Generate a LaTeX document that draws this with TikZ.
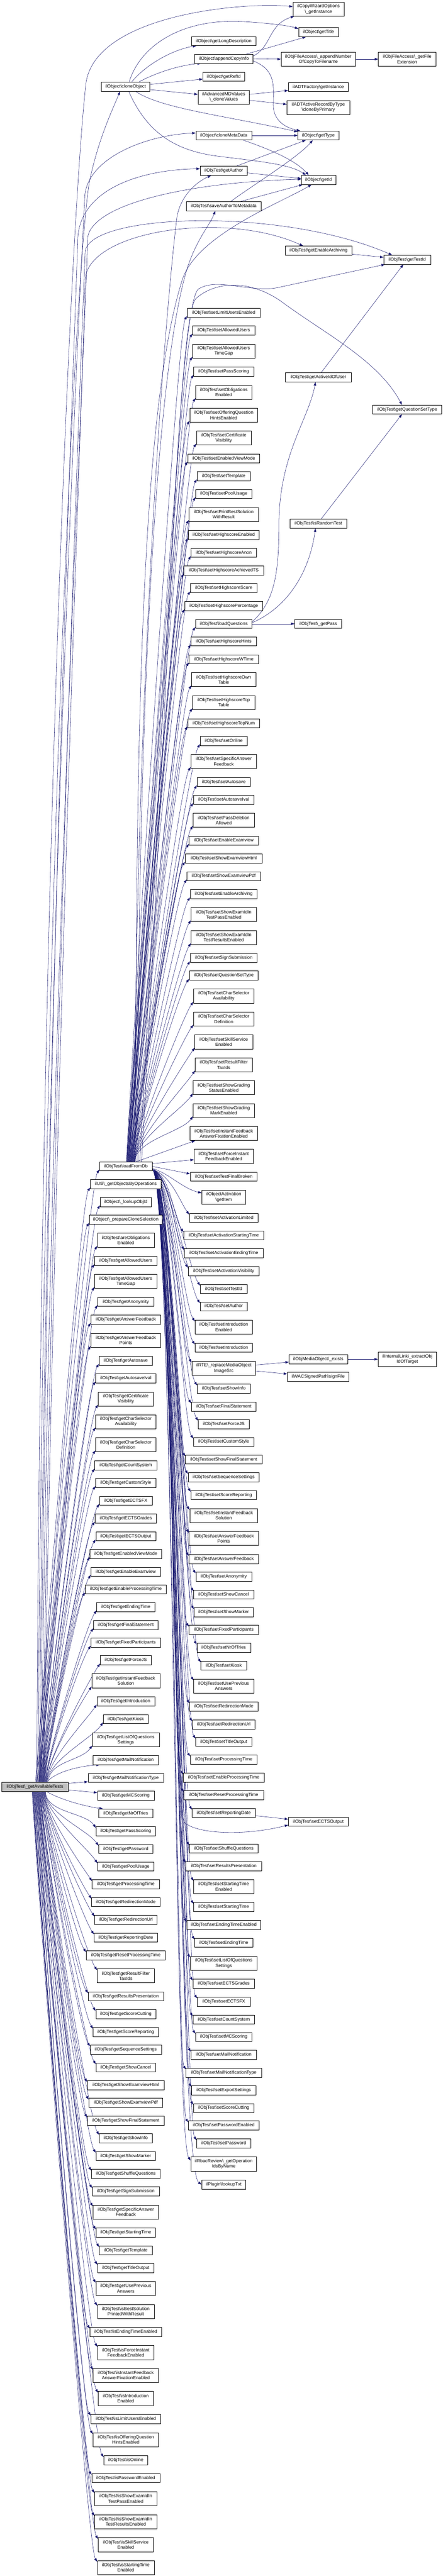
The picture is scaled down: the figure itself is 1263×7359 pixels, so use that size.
\documentclass[tikz,border=0pt]{standalone}
\usepackage{fontspec}
\setmainfont{Liberation Sans}
\usetikzlibrary{arrows.meta}
\definecolor{EdgeBlue}{RGB}{25,25,112}
\definecolor{RootGray}{RGB}{191,191,191}
\newcommand{\bsl}{\textbackslash}
\newcommand{\objt}{ilObjTest\textbackslash}
\pgfdeclarelayer{bg}
\pgfdeclarelayer{edges}
\pgfsetlayers{bg,edges,main}
\tikzset{
  fn/.style={draw=black, fill=white, line width=0.9pt, inner sep=0pt, align=center, minimum height=26, font=\fontsize{13}{15}\selectfont},
  fn2/.style={fn, minimum height=40},
  cedge/.style={draw=EdgeBlue, line width=0.8pt, -{Triangle[length=10pt,width=7pt]}},
  fanup/.style={to path={.. controls +(0,-60) and ([shift={(-30,40)}]\tikztotarget.south west) .. ([shift={(0,-4)}]\tikztotarget.south west)}},
  fandown/.style={to path={.. controls +(0,60) and ([shift={(-30,-40)}]\tikztotarget.north west) .. ([shift={(0,4)}]\tikztotarget.north west)}},
  fanright/.style={to path={.. controls +(55,20) and ([shift={(-30,-40)}]\tikztotarget.north west) .. ([shift={(0,4)}]\tikztotarget.north west)}}
}
\begin{document}
\begin{tikzpicture}[x=1pt,y=-1pt]
\useasboundingbox (0,0) rectangle (1263,7359);
\begin{pgfonlayer}{bg}
\fill [white] (0,0) rectangle (1263,7359);
\end{pgfonlayer}

% Text Node -- right columns
\node [fn2, minimum width=146] (cwoInst) at (909,26) {ilCopyWizardOptions\\\bsl\_getInstance};
\node [fn, minimum width=114] (getTitle) at (909,92) {ilObject\bsl getTitle};
\node [fn, minimum width=183] (getLongDesc) at (638.5,117.5) {ilObject\bsl getLongDescription};
\node [fn, minimum width=166] (appendCopy) at (639,168) {ilObject\bsl appendCopyInfo};
\node [fn2, minimum width=213] (appendNum) at (908.5,169) {ilObjFileAccess\bsl\_appendNumber\\OfCopyToFilename};
\node [fn2, minimum width=164] (fileExt) at (1162,169) {ilObjFileAccess\bsl\_getFile\\Extension};
\node [fn, minimum width=119] (getRefId) at (638.5,219) {ilObject\bsl getRefId};
\node [fn, minimum width=139] (cloneObj) at (358.5,248) {ilObject\bsl cloneObject};
\node [fn, minimum width=171] (adtInst) at (908.5,248.5) {ilADTFactory\bsl getInstance};
\node [fn2, minimum width=147] (cloneVal) at (638.5,277.5) {ilAdvancedMDValues\\\bsl\_cloneValues};
\node [fn2, minimum width=179] (cloneByPrim) at (908.5,307) {ilADTActiveRecordByType\\\bsl cloneByPrimary};
\node [fn, minimum width=159] (cloneMeta) at (638.5,387) {ilObject\bsl cloneMetaData};
\node [fn, minimum width=117] (getType) at (908.5,387) {ilObject\bsl getType};
\node [fn, minimum width=135] (getAuthor) at (638.5,488) {\objt getAuthor};
\node [fn, minimum width=98] (getId) at (909,514) {ilObject\bsl getId};
\node [fn, minimum width=213] (saveAuthor) at (638.5,589) {\objt saveAuthorToMetadata};
\node [fn, minimum width=190] (getEnArch) at (909,716) {\objt getEnableArchiving};
\node [fn, minimum width=134] (getTestId) at (1162,742) {\objt getTestId};
\node [fn, minimum width=187] (getActId) at (908.5,1078) {\objt getActiveIdOfUser};
\node [fn, minimum width=198] (getQSetType) at (1162,1170) {\objt getQuestionSetType};
\node [fn, minimum width=163] (isRandom) at (908.5,1496) {\objt isRandomTest};
\node [fn, minimum width=134] (getPass) at (908,1782) {\objt\_getPass};
\node [fn, minimum width=167] (mediaExists) at (908.5,3883) {ilObjMediaObject\bsl\_exists};
\node [fn2, minimum width=167] (extractObj) at (1162.5,3883) {ilInternalLink\bsl\_extractObj\\IdOfTarget};
\node [fn, minimum width=176] (signFile) at (908,3933) {ilWACSignedPath\bsl signFile};
\node [fn, minimum width=171] (setECTSOut) at (908.5,5204) {\objt setECTSOutput};

% Text Node -- setters called by loadFromDb
\node [fn, minimum width=208] (sLimUE) at (638.5,893.5) {\objt setLimitUsersEnabled};
\node [fn, minimum width=178] (sAllowU) at (638.5,944) {\objt setAllowedUsers};
\node [fn2, minimum width=178] (sAllowUTG) at (638.5,1003) {\objt setAllowedUsers\\TimeGap};
\node [fn, minimum width=171] (sPassSc) at (638.5,1061.5) {\objt setPassScoring};
\node [fn2, minimum width=160] (sOblEn) at (638.5,1121) {\objt setObligations\\Enabled};
\node [fn2, minimum width=194] (sOffQH) at (638.5,1186) {\objt setOfferingQuestion\\HintsEnabled};
\node [fn2, minimum width=156] (sCertVis) at (638.5,1251) {\objt setCertificate\\Visibility};
\node [fn, minimum width=205] (sEnViewM) at (638.5,1309.5) {\objt setEnabledViewMode};
\node [fn, minimum width=152] (sTemplate) at (638.5,1360) {\objt setTemplate};
\node [fn, minimum width=160] (sPoolUse) at (638.5,1411) {\objt setPoolUsage};
\node [fn2, minimum width=198] (sPrintBest) at (638.5,1469.5) {\objt setPrintBestSolution\\WithResult};
\node [fn, minimum width=202] (sHsEn) at (638.5,1528) {\objt setHighscoreEnabled};
\node [fn, minimum width=186] (sHsAnon) at (638.5,1579) {\objt setHighscoreAnon};
\node [fn, minimum width=227] (sHsAchTS) at (638.5,1630) {\objt setHighscoreAchievedTS};
\node [fn, minimum width=190] (sHsScore) at (638.5,1680) {\objt setHighscoreScore};
\node [fn, minimum width=222] (sHsPerc) at (638.5,1731) {\objt setHighscorePercentage};
\node [fn, minimum width=161] (loadQ) at (638.5,1782) {\objt loadQuestions};
\node [fn, minimum width=187] (sHsHints) at (638.5,1832) {\objt setHighscoreHints};
\node [fn, minimum width=198] (sHsWTime) at (638.5,1883.5) {\objt setHighscoreWTime};
\node [fn2, minimum width=183] (sHsOwnT) at (638.5,1941.5) {\objt setHighscoreOwn\\Table};
\node [fn2, minimum width=178] (sHsTopT) at (638.5,2007) {\objt setHighscoreTop\\Table};
\node [fn, minimum width=205] (sHsTopN) at (638.5,2066) {\objt setHighscoreTopNum};
\node [fn, minimum width=134] (sOnline) at (638.5,2116.5) {\objt setOnline};
\node [fn2, minimum width=187] (sSpecAF) at (638.5,2175) {\objt setSpecificAnswer\\Feedback};
\node [fn, minimum width=152] (sAutosave) at (638.5,2234) {\objt setAutosave};
\node [fn, minimum width=173] (sAutoIval) at (638.5,2284.5) {\objt setAutosaveIval};
\node [fn2, minimum width=175] (sPassDel) at (638.5,2343) {\objt setPassDeletion\\Allowed};
\node [fn, minimum width=198] (sEnExamV) at (638.5,2401.5) {\objt setEnableExamview};
\node [fn, minimum width=220] (sShowExH) at (638.5,2452.5) {\objt setShowExamviewHtml};
\node [fn, minimum width=210] (sShowExP) at (638.5,2503) {\objt setShowExamviewPdf};
\node [fn, minimum width=191] (sEnArch) at (638.5,2554) {\objt setEnableArchiving};
\node [fn2, minimum width=186] (sExIdPass) at (638.5,2612.5) {\objt setShowExamIdIn\\TestPassEnabled};
\node [fn2, minimum width=186] (sExIdRes) at (638.5,2678) {\objt setShowExamIdIn\\TestResultsEnabled};
\node [fn, minimum width=191] (sSignSub) at (638.5,2736.5) {\objt setSignSubmission};
\node [fn, minimum width=197] (sQSetType) at (638.5,2787) {\objt setQuestionSetType};
\node [fn2, minimum width=173] (sCharAv) at (638.5,2845.5) {\objt setCharSelector\\Availability};
\node [fn2, minimum width=173] (sCharDef) at (638.5,2911) {\objt setCharSelector\\Definition};
\node [fn2, minimum width=165] (sSkillSrv) at (638.5,2976.5) {\objt setSkillService\\Enabled};
\node [fn2, minimum width=163] (sResFilt) at (638.5,3042) {\objt setResultFilter\\TaxIds};
\node [fn2, minimum width=175] (sGrStat) at (638.5,3107) {\objt setShowGrading\\StatusEnabled};
\node [fn2, minimum width=175] (sGrMark) at (638.5,3172.5) {\objt setShowGrading\\MarkEnabled};
\node [fn2, minimum width=194] (sIFAnsFix) at (638.5,3238) {\objt setInstantFeedback\\AnswerFixationEnabled};
\node [fn2, minimum width=169] (sForceIF) at (638.5,3303) {\objt setForceInstant\\FeedbackEnabled};
\node [fn, minimum width=191] (sFinBroken) at (638.5,3361.5) {\objt setTestFinalBroken};
\node [fn2, minimum width=125] (actItem) at (638.5,3420) {ilObjectActivation\\\bsl getItem};
\node [fn, minimum width=197] (sActLim) at (638.5,3479) {\objt setActivationLimited};
\node [fn, minimum width=229] (sActStart) at (638.5,3529) {\objt setActivationStartingTime};
\node [fn, minimum width=224] (sActEnd) at (638.5,3580) {\objt setActivationEndingTime};
\node [fn, minimum width=203] (sActVis) at (638.5,3631) {\objt setActivationVisibility};
\node [fn, minimum width=134] (sTestId) at (638.5,3682) {\objt setTestId};
\node [fn, minimum width=135] (sAuthor) at (638.5,3732) {\objt setAuthor};
\node [fn2, minimum width=164] (sIntroEn) at (638.5,3791) {\objt setIntroduction\\Enabled};
\node [fn, minimum width=164] (sIntro) at (638.5,3850) {\objt setIntroduction};
\node [fn2, minimum width=182] (rteRepl) at (638.5,3908.5) {ilRTE\bsl\_replaceMediaObject\\ImageSrc};
\node [fn, minimum width=151] (sShowInfo) at (638.5,3967) {\objt setShowInfo};
\node [fn, minimum width=185] (sFinStmt) at (638.5,4018) {\objt setFinalStatement};
\node [fn, minimum width=145] (sForceJS) at (638.5,4068) {\objt setForceJS};
\node [fn, minimum width=173] (sCustStyle) at (638.5,4119) {\objt setCustomStyle};
\node [fn, minimum width=218] (sShowFinSt) at (638.5,4169.5) {\objt setShowFinalStatement};
\node [fn, minimum width=203] (sSeqSet) at (638.5,4220) {\objt setSequenceSettings};
\node [fn, minimum width=187] (sScoreRep) at (638.5,4271) {\objt setScoreReporting};
\node [fn2, minimum width=194] (sIFSol) at (638.5,4329.5) {\objt setInstantFeedback\\Solution};
\node [fn2, minimum width=198] (sAnsFbPts) at (638.5,4395) {\objt setAnswerFeedback\\Points};
\node [fn, minimum width=198] (sAnsFb) at (638.5,4454) {\objt setAnswerFeedback};
\node [fn, minimum width=159] (sAnonym) at (638.5,4504) {\objt setAnonymity};
\node [fn, minimum width=171] (sShowCanc) at (638.5,4555) {\objt setShowCancel};
\node [fn, minimum width=169] (sShowMark) at (638.5,4606) {\objt setShowMarker};
\node [fn, minimum width=198] (sFixPart) at (638.5,4656) {\objt setFixedParticipants};
\node [fn, minimum width=153] (sNrTries) at (638.5,4707) {\objt setNrOfTries};
\node [fn, minimum width=130] (sKiosk) at (638.5,4758) {\objt setKiosk};
\node [fn2, minimum width=171] (sUsePrev) at (638.5,4816.5) {\objt setUsePrevious\\Answers};
\node [fn, minimum width=195] (sRedirM) at (638.5,4875) {\objt setRedirectionMode};
\node [fn, minimum width=179] (sRedirU) at (638.5,4926.5) {\objt setRedirectionUrl};
\node [fn, minimum width=160] (sTitleOut) at (638.5,4976) {\objt setTitleOutput};
\node [fn, minimum width=191] (sProcT) at (638.5,5027) {\objt setProcessingTime};
\node [fn, minimum width=230] (sEnProcT) at (638.5,5078) {\objt setEnableProcessingTime};
\node [fn, minimum width=227] (sResetPT) at (638.5,5128.5) {\objt setResetProcessingTime};
\node [fn, minimum width=180] (sRepDate) at (638.5,5179) {\objt setReportingDate};
\node [fn, minimum width=196] (sShuffleQ) at (638.5,5280.5) {\objt setShuffleQuestions};
\node [fn, minimum width=215] (sResPres) at (638.5,5331) {\objt setResultsPresentation};
\node [fn2, minimum width=171] (sStartTEn) at (638.5,5389.5) {\objt setStartingTime\\Enabled};
\node [fn, minimum width=171] (sStartT) at (638.5,5448) {\objt setStartingTime};
\node [fn, minimum width=211] (sEndTEn) at (638.5,5499) {\objt setEndingTimeEnabled};
\node [fn, minimum width=165] (sEndT) at (638.5,5550) {\objt setEndingTime};
\node [fn2, minimum width=191] (sListOfQ) at (638.5,5608.5) {\objt setListOfQuestions\\Settings};
\node [fn, minimum width=176] (sECTSGr) at (638.5,5667) {\objt setECTSGrades};
\node [fn, minimum width=151] (sECTSFX) at (638.5,5718) {\objt setECTSFX};
\node [fn, minimum width=176] (sCountSys) at (638.5,5769) {\objt setCountSystem};
\node [fn, minimum width=161] (sMCSc) at (638.5,5819) {\objt setMCScoring};
\node [fn, minimum width=187] (sMailN) at (638.5,5870) {\objt setMailNotification};
\node [fn, minimum width=215] (sMailNT) at (638.5,5921) {\objt setMailNotificationType};
\node [fn, minimum width=183] (sExportSet) at (638.5,5971) {\objt setExportSettings};
\node [fn, minimum width=173] (sScoreCut) at (638.5,6022) {\objt setScoreCutting};
\node [fn, minimum width=202] (sPwEn) at (638.5,6072) {\objt setPasswordEnabled};
\node [fn, minimum width=155] (sPassword) at (638.5,6123) {\objt setPassword};
\node [fn2, minimum width=188] (rbacOps) at (638.5,6182) {ilRbacReview\bsl\_getOperation\\IdsByName};
\node [fn, minimum width=126] (pluginTxt) at (638.5,6240.5) {ilPlugin\bsl lookupTxt};

% Text Node -- called by _getAvailableTests
\node [fn, minimum width=150] (lfd) at (359,3332) {\objt loadFromDb};
\node [fn, minimum width=202] (gObjOps) at (359,3383) {ilUtil\bsl\_getObjectsByOperations};
\node [fn, minimum width=146] (lookObjId) at (359,3434) {ilObject\bsl\_lookupObjId};
\node [fn, minimum width=208] (prepClone) at (359,3484) {ilObject\bsl\_prepareCloneSelection};
\node [fn2, minimum width=162] (aOblEn) at (359,3543) {\objt areObligations\\Enabled};
\node [fn, minimum width=178] (gAllowU) at (359,3602) {\objt getAllowedUsers};
\node [fn2, minimum width=178] (gAllowUTG) at (359,3660.5) {\objt getAllowedUsers\\TimeGap};
\node [fn, minimum width=160] (gAnonym) at (359,3719) {\objt getAnonymity};
\node [fn, minimum width=199] (gAnsFb) at (359,3770) {\objt getAnswerFeedback};
\node [fn2, minimum width=199] (gAnsFbPts) at (359,3829) {\objt getAnswerFeedback\\Points};
\node [fn, minimum width=152] (gAutosave) at (359,3887) {\objt getAutosave};
\node [fn, minimum width=172] (gAutoIval) at (359,3937.5) {\objt getAutosaveIval};
\node [fn2, minimum width=157] (gCertVis) at (359,3996.5) {\objt getCertificate\\Visibility};
\node [fn2, minimum width=172] (gCharAv) at (359,4061.5) {\objt getCharSelector\\Availability};
\node [fn2, minimum width=172] (gCharDef) at (359,4127) {\objt getCharSelector\\Definition};
\node [fn, minimum width=177] (gCountSys) at (359,4186) {\objt getCountSystem};
\node [fn, minimum width=172] (gCustStyle) at (359,4236) {\objt getCustomStyle};
\node [fn, minimum width=150] (gECTSFX) at (359,4287) {\objt getECTSFX};
\node [fn, minimum width=176] (gECTSGr) at (359,4338) {\objt getECTSGrades};
\node [fn, minimum width=171] (gECTSOut) at (359,4388.5) {\objt getECTSOutput};
\node [fn, minimum width=204] (gEnViewM) at (359,4439) {\objt getEnabledViewMode};
\node [fn, minimum width=199] (gEnExamV) at (359,4490) {\objt getEnableExamview};
\node [fn, minimum width=231] (gEnProcT) at (359,4540) {\objt getEnableProcessingTime};
\node [fn, minimum width=166] (gEndT) at (359,4591) {\objt getEndingTime};
\node [fn, minimum width=184] (gFinStmt) at (359,4642) {\objt getFinalStatement};
\node [fn, minimum width=199] (gFixPart) at (359,4692) {\objt getFixedParticipants};
\node [fn, minimum width=146] (gForceJS) at (359,4743) {\objt getForceJS};
\node [fn2, minimum width=194] (gIFSol) at (359,4801.5) {\objt getInstantFeedback\\Solution};
\node [fn, minimum width=165] (gIntro) at (359,4860) {\objt getIntroduction};
\node [fn, minimum width=129] (gKiosk) at (359,4911) {\objt getKiosk};
\node [fn2, minimum width=191] (gListOfQ) at (359,4970) {\objt getListOfQuestions\\Settings};
\node [fn, minimum width=187] (gMailN) at (359,5028) {\objt getMailNotification};
\node [fn, minimum width=215] (gMailNT) at (359,5079) {\objt getMailNotificationType};
\node [fn, fill=RootGray, minimum width=190] (root) at (100,5104.5) {\objt\_getAvailableTests};
\node [fn, minimum width=162] (gMCSc) at (359,5130) {\objt getMCScoring};
\node [fn, minimum width=154] (gNrTries) at (359,5180.5) {\objt getNrOfTries};
\node [fn, minimum width=170] (gPassSc) at (359,5231) {\objt getPassScoring};
\node [fn, minimum width=155] (gPassword) at (359,5282) {\objt getPassword};
\node [fn, minimum width=161] (gPoolUse) at (359,5332) {\objt getPoolUsage};
\node [fn, minimum width=192] (gProcT) at (359,5383) {\objt getProcessingTime};
\node [fn, minimum width=195] (gRedirM) at (359,5433.5) {\objt getRedirectionMode};
\node [fn, minimum width=178] (gRedirU) at (359,5484) {\objt getRedirectionUrl};
\node [fn, minimum width=181] (gRepDate) at (359,5535) {\objt getReportingDate};
\node [fn, minimum width=226] (gResetPT) at (359,5586) {\objt getResetProcessingTime};
\node [fn2, minimum width=163] (gResFilt) at (359,5644.5) {\objt getResultFilter\\TaxIds};
\node [fn, minimum width=215] (gResPres) at (359,5703) {\objt getResultsPresentation};
\node [fn, minimum width=171] (gScoreCut) at (359,5754) {\objt getScoreCutting};
\node [fn, minimum width=186] (gScoreRep) at (359,5805) {\objt getScoreReporting};
\node [fn, minimum width=203] (gSeqSet) at (359,5855) {\objt getSequenceSettings};
\node [fn, minimum width=170] (gShowCanc) at (359,5906) {\objt getShowCancel};
\node [fn, minimum width=219] (gShowExH) at (359,5957) {\objt getShowExamviewHtml};
\node [fn, minimum width=211] (gShowExP) at (359,6007) {\objt getShowExamviewPdf};
\node [fn, minimum width=219] (gShowFinSt) at (359,6058) {\objt getShowFinalStatement};
\node [fn, minimum width=151] (gShowInfo) at (359,6108) {\objt getShowInfo};
\node [fn, minimum width=170] (gShowMark) at (359,6159) {\objt getShowMarker};
\node [fn, minimum width=196] (gShuffleQ) at (359,6210) {\objt getShuffleQuestions};
\node [fn, minimum width=191] (gSignSub) at (359,6260) {\objt getSignSubmission};
\node [fn2, minimum width=187] (gSpecAF) at (359,6319) {\objt getSpecificAnswer\\Feedback};
\node [fn, minimum width=170] (gStartT) at (359,6378) {\objt getStartingTime};
\node [fn, minimum width=151] (gTemplate) at (359,6428.5) {\objt getTemplate};
\node [fn, minimum width=161] (gTitleOut) at (359,6479) {\objt getTitleOutput};
\node [fn2, minimum width=170] (gUsePrev) at (359,6537.5) {\objt getUsePrevious\\Answers};
\node [fn2, minimum width=162] (iBestSol) at (359,6603) {\objt isBestSolution\\PrintedWithResult};
\node [fn, minimum width=204] (iEndTEn) at (359,6661.5) {\objt isEndingTimeEnabled};
\node [fn2, minimum width=161] (iForceIF) at (359,6720.5) {\objt isForceInstant\\FeedbackEnabled};
\node [fn2, minimum width=186] (iIFAnsFix) at (359,6786) {\objt isInstantFeedback\\AnswerFixationEnabled};
\node [fn2, minimum width=157] (iIntroEn) at (359,6851.5) {\objt isIntroduction\\Enabled};
\node [fn, minimum width=199] (iLimUEn) at (359,6910) {\objt isLimitUsersEnabled};
\node [fn2, minimum width=187] (iOffQH) at (359,6969.5) {\objt isOfferingQuestion\\HintsEnabled};
\node [fn, minimum width=126] (iOnline) at (359,7028.5) {\objt isOnline};
\node [fn, minimum width=194] (iPwEn) at (359,7079) {\objt isPasswordEnabled};
\node [fn2, minimum width=178] (iExIdPass) at (359,7138) {\objt isShowExamIdIn\\TestPassEnabled};
\node [fn2, minimum width=178] (iExIdRes) at (359,7203.5) {\objt isShowExamIdIn\\TestResultsEnabled};
\node [fn2, minimum width=157] (iSkillSrv) at (359,7269.5) {\objt isSkillService\\Enabled};
\node [fn2, minimum width=162] (iStartTEn) at (359,7334.5) {\objt isStartingTime\\Enabled};

\begin{pgfonlayer}{edges}
%Curve Lines -- cloneObject and the functions around it
\draw [cedge] ([shift={(10,0)}]cloneObj.north) .. controls (400,130) and (520,50) .. (700,62) .. controls (790,68) and (830,75) .. ([shift={(0,-10)}]getTitle.west);
\draw [cedge] ([shift={(17,0)}]cloneObj.north) .. controls (420,180) and (500,140) .. ([shift={(14,0)}]getLongDesc.south west);
\draw [cedge] ([shift={(37,0)}]cloneObj.north) .. controls (450,205) and (520,185) .. ([shift={(18,0)}]appendCopy.south west);
\draw [cedge] ([shift={(0,-7)}]cloneObj.east) -- ([shift={(0,7)}]getRefId.west);
\draw [cedge] ([shift={(0,8)}]cloneObj.east) -- ([shift={(0,-8)}]cloneVal.west);
\draw [cedge] ([shift={(29,0)}]cloneObj.south) .. controls (460,310) and (640,330) .. ([shift={(0,3)}]getType.north west);
\draw [cedge] ([shift={(9,0)}]cloneObj.south) .. controls (420,380) and (500,430) .. (620,446) .. controls (750,462) and (830,470) .. ([shift={(-36,0)}]getId.north);
\draw [cedge] ([shift={(0,-8)}]appendCopy.east) .. controls (775,135) and (765,70) .. ([shift={(4,0)}]cwoInst.south west);
\draw [cedge] ([shift={(64,0)}]appendCopy.north) -- ([shift={(-36,0)}]getTitle.south);
\draw [cedge] (appendCopy.east) -- (appendNum.west);
\draw [cedge] (appendNum.east) -- (fileExt.west);
\draw [cedge] ([shift={(0,6)}]appendCopy.east) .. controls (790,200) and (780,250) .. (780,300) .. controls (780,345) and (815,365) .. ([shift={(7,0)}]getType.north west);
\draw [cedge] ([shift={(0,-8)}]cloneVal.east) -- ([shift={(0,10)}]adtInst.west);
\draw [cedge] ([shift={(0,9)}]cloneVal.east) -- ([shift={(0,-9)}]cloneByPrim.west);
\draw [cedge] (cloneMeta.east) -- (getType.west);
\draw [cedge] ([shift={(56,0)}]cloneMeta.south) .. controls (780,430) and (845,460) .. ([shift={(-28,0)}]getId.north);
\draw [cedge] ([shift={(36,0)}]getAuthor.north) -- ([shift={(-36,0)}]getType.south);
\draw [cedge] ([shift={(0,6)}]getAuthor.east) -- ([shift={(0,-4)}]getId.west);
\draw [cedge] ([shift={(20,0)}]saveAuthor.north) .. controls (720,530) and (850,450) .. ([shift={(-16,0)}]getType.south);
\draw [cedge] ([shift={(48,0)}]saveAuthor.north) -- ([shift={(4,0)}]getId.south west);
\draw [cedge] ([shift={(0,10)}]getEnArch.east) -- ([shift={(0,-7)}]getTestId.west);
\draw [cedge] ([shift={(8,0)}]getActId.north) -- ([shift={(-11,0)}]getTestId.south);
\draw [cedge] ([shift={(8,0)}]isRandom.north) -- ([shift={(-15,0)}]getQSetType.south);
\draw [cedge] ([shift={(0,-5)}]loadQ.east) .. controls (780,1720) and (796,1650) .. (796,1500) .. controls (796,1300) and (880,1200) .. ([shift={(-8,0)}]getActId.south);
\draw [cedge] ([shift={(0,-3)}]loadQ.east) .. controls (810,1740) and (880,1650) .. ([shift={(-8,0)}]isRandom.south);
\draw [cedge] (loadQ.east) -- (getPass.west);
\draw [cedge] ([shift={(0,-9)}]rteRepl.east) -- ([shift={(0,8)}]mediaExists.west);
\draw [cedge] ([shift={(0,8)}]rteRepl.east) -- ([shift={(0,-8)}]signFile.west);
\draw [cedge] (mediaExists.east) -- (extractObj.west);
\draw [cedge] ([shift={(0,8)}]sRepDate.east) -- ([shift={(0,-7)}]setECTSOut.west);

%Curve Lines -- long calls of _getAvailableTests
\draw [cedge] ([shift={(5,0)}]root.north) .. controls (115,2600) and (200,650) .. (245,240) .. controls (270,40) and (700,5) .. ([shift={(0,-7)}]cwoInst.west);
\draw [cedge] ([shift={(8,0)}]root.north) .. controls (125,2600) and (215,760) .. (255,520) .. controls (280,400) and (318,320) .. ([shift={(-16,0)}]cloneObj.south);
\draw [cedge] ([shift={(12,0)}]root.north) .. controls (130,2700) and (232,760) .. (242,560) .. controls (250,450) and (420,385) .. ([shift={(0,-7)}]cloneMeta.west);
\draw [cedge] ([shift={(15,0)}]root.north) .. controls (135,2800) and (218,850) .. (222,680) .. controls (230,540) and (400,485) .. ([shift={(0,-6)}]getAuthor.west);
\draw [cedge] ([shift={(18,0)}]root.north) .. controls (140,2900) and (245,950) .. (250,680) .. controls (262,580) and (550,520) .. ([shift={(0,-2)}]getId.west);
\draw [cedge] ([shift={(22,0)}]root.north) .. controls (150,3000) and (236,900) .. (243,720) .. controls (250,610) and (800,590) .. ([shift={(-43,0)}]getTestId.north);
\draw [cedge] ([shift={(25,0)}]root.north) .. controls (155,3100) and (240,1000) .. (243,800) .. controls (248,660) and (640,600) .. ([shift={(-44,0)}]getEnArch.north);

%Curve Lines -- long calls of loadFromDb
\draw [cedge] ([shift={(25,0)}]lfd.north) .. controls (385,2000) and (470,900) .. (505,620) .. controls (515,560) and (560,520) .. ([shift={(-36,0)}]getAuthor.south);
\draw [cedge] ([shift={(35,0)}]lfd.north) .. controls (390,2000) and (450,1000) .. (540,750) .. controls (565,680) and (600,640) .. ([shift={(-24,0)}]saveAuthor.south);
\draw [cedge] ([shift={(29,0)}]lfd.north) .. controls (385,2000) and (410,1150) .. (520,800) .. controls (560,672) and (800,580) .. ([shift={(-20,0)}]getId.south);
\draw [cedge] ([shift={(40,0)}]lfd.north) .. controls (470,2000) and (510,870) .. (566,826) .. controls (620,790) and (720,840) .. (800,820) -- ([shift={(4,0)}]getTestId.south west);
\draw [cedge] ([shift={(45,0)}]lfd.north) .. controls (480,2000) and (505,900) .. (560,852) .. controls (620,800) and (720,800) .. (808,865) .. controls (930,955) and (1080,1030) .. ([shift={(-15,0)}]getQSetType.north);
\draw [cedge] ([shift={(0,8)}]lfd.east) .. controls (489,3360) and (495,5120) .. (525,5205) .. controls (560,5240) and (700,5245) .. ([shift={(0,-4)}]setECTSOut.south west);
\draw [cedge] ([shift={(0,8)}]gObjOps.east) .. controls (498,3410) and (495,6100) .. ([shift={(0,-10)}]rbacOps.west);
\draw [cedge] ([shift={(0,8)}]prepClone.east) .. controls (500,3510) and (505,6190) .. (pluginTxt.west);

%Straight Lines -- short calls of loadFromDb
\draw [cedge] ([shift={(30,0)}]lfd.north) -- ([shift={(16,0)}]sIFAnsFix.south west);
\draw [cedge] ([shift={(0,-8)}]lfd.east) -- ([shift={(0,10)}]sForceIF.west);
\draw [cedge] (lfd.east) -- ([shift={(0,-8)}]sFinBroken.west);
\draw [cedge] ([shift={(0,6)}]lfd.east) .. controls (480,3350) and (520,3395) .. ([shift={(0,-12)}]actItem.west);

%Curve Lines -- loadFromDb upwards
\draw [cedge] ([shift={(2,0)}]lfd.north) to[fanup] (sLimUE);
\draw [cedge] ([shift={(3,0)}]lfd.north) to[fanup] (sAllowU);
\draw [cedge] ([shift={(3,0)}]lfd.north) to[fanup] (sAllowUTG);
\draw [cedge] ([shift={(4,0)}]lfd.north) to[fanup] (sPassSc);
\draw [cedge] ([shift={(4,0)}]lfd.north) to[fanup] (sOblEn);
\draw [cedge] ([shift={(5,0)}]lfd.north) to[fanup] (sOffQH);
\draw [cedge] ([shift={(6,0)}]lfd.north) to[fanup] (sCertVis);
\draw [cedge] ([shift={(6,0)}]lfd.north) to[fanup] (sEnViewM);
\draw [cedge] ([shift={(7,0)}]lfd.north) to[fanup] (sTemplate);
\draw [cedge] ([shift={(7,0)}]lfd.north) to[fanup] (sPoolUse);
\draw [cedge] ([shift={(8,0)}]lfd.north) to[fanup] (sPrintBest);
\draw [cedge] ([shift={(9,0)}]lfd.north) to[fanup] (sHsEn);
\draw [cedge] ([shift={(9,0)}]lfd.north) to[fanup] (sHsAnon);
\draw [cedge] ([shift={(10,0)}]lfd.north) to[fanup] (sHsAchTS);
\draw [cedge] ([shift={(10,0)}]lfd.north) to[fanup] (sHsScore);
\draw [cedge] ([shift={(11,0)}]lfd.north) to[fanup] (sHsPerc);
\draw [cedge] ([shift={(12,0)}]lfd.north) to[fanup] (loadQ);
\draw [cedge] ([shift={(12,0)}]lfd.north) to[fanup] (sHsHints);
\draw [cedge] ([shift={(13,0)}]lfd.north) to[fanup] (sHsWTime);
\draw [cedge] ([shift={(13,0)}]lfd.north) to[fanup] (sHsOwnT);
\draw [cedge] ([shift={(14,0)}]lfd.north) to[fanup] (sHsTopT);
\draw [cedge] ([shift={(15,0)}]lfd.north) to[fanup] (sHsTopN);
\draw [cedge] ([shift={(15,0)}]lfd.north) to[fanup] (sOnline);
\draw [cedge] ([shift={(16,0)}]lfd.north) to[fanup] (sSpecAF);
\draw [cedge] ([shift={(16,0)}]lfd.north) to[fanup] (sAutosave);
\draw [cedge] ([shift={(17,0)}]lfd.north) to[fanup] (sAutoIval);
\draw [cedge] ([shift={(18,0)}]lfd.north) to[fanup] (sPassDel);
\draw [cedge] ([shift={(18,0)}]lfd.north) to[fanup] (sEnExamV);
\draw [cedge] ([shift={(19,0)}]lfd.north) to[fanup] (sShowExH);
\draw [cedge] ([shift={(19,0)}]lfd.north) to[fanup] (sShowExP);
\draw [cedge] ([shift={(20,0)}]lfd.north) to[fanup] (sEnArch);
\draw [cedge] ([shift={(21,0)}]lfd.north) to[fanup] (sExIdPass);
\draw [cedge] ([shift={(21,0)}]lfd.north) to[fanup] (sExIdRes);
\draw [cedge] ([shift={(22,0)}]lfd.north) to[fanup] (sSignSub);
\draw [cedge] ([shift={(22,0)}]lfd.north) to[fanup] (sQSetType);
\draw [cedge] ([shift={(23,0)}]lfd.north) to[fanup] (sCharAv);
\draw [cedge] ([shift={(24,0)}]lfd.north) to[fanup] (sCharDef);
\draw [cedge] ([shift={(24,0)}]lfd.north) to[fanup] (sSkillSrv);
\draw [cedge] ([shift={(25,0)}]lfd.north) to[fanup] (sResFilt);
\draw [cedge] ([shift={(25,0)}]lfd.north) to[fanup] (sGrStat);
\draw [cedge] ([shift={(26,0)}]lfd.north) to[fanup] (sGrMark);

%Curve Lines -- loadFromDb downwards
\draw [cedge] ([shift={(0,8)}]lfd.east) to[fanright] (sActLim);
\draw [cedge] ([shift={(0,8)}]lfd.east) to[fanright] (sActStart);
\draw [cedge] ([shift={(0,8)}]lfd.east) to[fanright] (sActEnd);
\draw [cedge] ([shift={(0,8)}]lfd.east) to[fanright] (sActVis);
\draw [cedge] ([shift={(0,8)}]lfd.east) to[fanright] (sTestId);
\draw [cedge] ([shift={(0,8)}]lfd.east) to[fanright] (sAuthor);
\draw [cedge] ([shift={(0,8)}]lfd.east) to[fanright] (sIntroEn);
\draw [cedge] ([shift={(0,8)}]lfd.east) to[fanright] (sIntro);
\draw [cedge] ([shift={(0,8)}]lfd.east) to[fanright] (rteRepl);
\draw [cedge] ([shift={(0,8)}]lfd.east) to[fanright] (sShowInfo);
\draw [cedge] ([shift={(0,8)}]lfd.east) to[fanright] (sFinStmt);
\draw [cedge] ([shift={(0,8)}]lfd.east) to[fanright] (sForceJS);
\draw [cedge] ([shift={(0,8)}]lfd.east) to[fanright] (sCustStyle);
\draw [cedge] ([shift={(0,8)}]lfd.east) to[fanright] (sShowFinSt);
\draw [cedge] ([shift={(0,8)}]lfd.east) to[fanright] (sSeqSet);
\draw [cedge] ([shift={(0,8)}]lfd.east) to[fanright] (sScoreRep);
\draw [cedge] ([shift={(0,8)}]lfd.east) to[fanright] (sIFSol);
\draw [cedge] ([shift={(0,8)}]lfd.east) to[fanright] (sAnsFbPts);
\draw [cedge] ([shift={(0,8)}]lfd.east) to[fanright] (sAnsFb);
\draw [cedge] ([shift={(0,8)}]lfd.east) to[fanright] (sAnonym);
\draw [cedge] ([shift={(0,8)}]lfd.east) to[fanright] (sShowCanc);
\draw [cedge] ([shift={(0,8)}]lfd.east) to[fanright] (sShowMark);
\draw [cedge] ([shift={(0,8)}]lfd.east) to[fanright] (sFixPart);
\draw [cedge] ([shift={(0,8)}]lfd.east) to[fanright] (sNrTries);
\draw [cedge] ([shift={(0,8)}]lfd.east) to[fanright] (sKiosk);
\draw [cedge] ([shift={(0,8)}]lfd.east) to[fanright] (sUsePrev);
\draw [cedge] ([shift={(0,8)}]lfd.east) to[fanright] (sRedirM);
\draw [cedge] ([shift={(0,8)}]lfd.east) to[fanright] (sRedirU);
\draw [cedge] ([shift={(0,8)}]lfd.east) to[fanright] (sTitleOut);
\draw [cedge] ([shift={(0,8)}]lfd.east) to[fanright] (sProcT);
\draw [cedge] ([shift={(0,8)}]lfd.east) to[fanright] (sEnProcT);
\draw [cedge] ([shift={(0,8)}]lfd.east) to[fanright] (sResetPT);
\draw [cedge] ([shift={(0,8)}]lfd.east) to[fanright] (sRepDate);
\draw [cedge] ([shift={(0,8)}]lfd.east) to[fanright] (sShuffleQ);
\draw [cedge] ([shift={(0,8)}]lfd.east) to[fanright] (sResPres);
\draw [cedge] ([shift={(0,8)}]lfd.east) to[fanright] (sStartTEn);
\draw [cedge] ([shift={(0,8)}]lfd.east) to[fanright] (sStartT);
\draw [cedge] ([shift={(0,8)}]lfd.east) to[fanright] (sEndTEn);
\draw [cedge] ([shift={(0,8)}]lfd.east) to[fanright] (sEndT);
\draw [cedge] ([shift={(0,8)}]lfd.east) to[fanright] (sListOfQ);
\draw [cedge] ([shift={(0,8)}]lfd.east) to[fanright] (sECTSGr);
\draw [cedge] ([shift={(0,8)}]lfd.east) to[fanright] (sECTSFX);
\draw [cedge] ([shift={(0,8)}]lfd.east) to[fanright] (sCountSys);
\draw [cedge] ([shift={(0,8)}]lfd.east) to[fanright] (sMCSc);
\draw [cedge] ([shift={(0,8)}]lfd.east) to[fanright] (sMailN);
\draw [cedge] ([shift={(0,8)}]lfd.east) to[fanright] (sMailNT);
\draw [cedge] ([shift={(0,8)}]lfd.east) to[fanright] (sExportSet);
\draw [cedge] ([shift={(0,8)}]lfd.east) to[fanright] (sScoreCut);
\draw [cedge] ([shift={(0,8)}]lfd.east) to[fanright] (sPwEn);
\draw [cedge] ([shift={(0,8)}]lfd.east) to[fanright] (sPassword);

%Curve Lines -- _getAvailableTests upwards
\draw [cedge] ([shift={(2,0)}]root.north) to[fanup] (lfd);
\draw [cedge] ([shift={(4,0)}]root.north) to[fanup] (gObjOps);
\draw [cedge] ([shift={(6,0)}]root.north) to[fanup] (lookObjId);
\draw [cedge] ([shift={(8,0)}]root.north) to[fanup] (prepClone);
\draw [cedge] ([shift={(10,0)}]root.north) to[fanup] (aOblEn);
\draw [cedge] ([shift={(11,0)}]root.north) to[fanup] (gAllowU);
\draw [cedge] ([shift={(12,0)}]root.north) to[fanup] (gAllowUTG);
\draw [cedge] ([shift={(13,0)}]root.north) to[fanup] (gAnonym);
\draw [cedge] ([shift={(14,0)}]root.north) to[fanup] (gAnsFb);
\draw [cedge] ([shift={(15,0)}]root.north) to[fanup] (gAnsFbPts);
\draw [cedge] ([shift={(16,0)}]root.north) to[fanup] (gAutosave);
\draw [cedge] ([shift={(17,0)}]root.north) to[fanup] (gAutoIval);
\draw [cedge] ([shift={(18,0)}]root.north) to[fanup] (gCertVis);
\draw [cedge] ([shift={(19,0)}]root.north) to[fanup] (gCharAv);
\draw [cedge] ([shift={(20,0)}]root.north) to[fanup] (gCharDef);
\draw [cedge] ([shift={(21,0)}]root.north) to[fanup] (gCountSys);
\draw [cedge] ([shift={(22,0)}]root.north) to[fanup] (gCustStyle);
\draw [cedge] ([shift={(23,0)}]root.north) to[fanup] (gECTSFX);
\draw [cedge] ([shift={(24,0)}]root.north) to[fanup] (gECTSGr);
\draw [cedge] ([shift={(25,0)}]root.north) to[fanup] (gECTSOut);
\draw [cedge] ([shift={(26,0)}]root.north) to[fanup] (gEnViewM);
\draw [cedge] ([shift={(27,0)}]root.north) to[fanup] (gEnExamV);
\draw [cedge] ([shift={(28,0)}]root.north) to[fanup] (gEnProcT);
\draw [cedge] ([shift={(29,0)}]root.north) to[fanup] (gEndT);
\draw [cedge] ([shift={(30,0)}]root.north) to[fanup] (gFinStmt);
\draw [cedge] ([shift={(31,0)}]root.north) to[fanup] (gFixPart);
\draw [cedge] ([shift={(32,0)}]root.north) to[fanup] (gForceJS);
\draw [cedge] ([shift={(33,0)}]root.north) to[fanup] (gIFSol);
\draw [cedge] ([shift={(34,0)}]root.north) to[fanup] (gIntro);
\draw [cedge] ([shift={(35,0)}]root.north) to[fanup] (gKiosk);
\draw [cedge] ([shift={(38,0)}]root.north) to[fanup] (gListOfQ);
\draw [cedge] ([shift={(33,0)}]root.north) .. controls (160,5060) and (230,5045) .. ([shift={(20,0)}]gMailN.south west);
\draw [cedge] ([shift={(0,-10)}]root.east) -- ([shift={(0,11)}]gMailNT.west);

%Curve Lines -- _getAvailableTests downwards
\draw [cedge] ([shift={(0,9)}]root.east) -- ([shift={(0,-9)}]gMCSc.west);
\draw [cedge] ([shift={(33,0)}]root.south) .. controls (170,5140) and (240,5160) .. ([shift={(12,0)}]gNrTries.north west);
\draw [cedge] ([shift={(30,0)}]root.south) to[fandown] (gPassSc);
\draw [cedge] ([shift={(29,0)}]root.south) to[fandown] (gPassword);
\draw [cedge] ([shift={(28,0)}]root.south) to[fandown] (gPoolUse);
\draw [cedge] ([shift={(27,0)}]root.south) to[fandown] (gProcT);
\draw [cedge] ([shift={(26,0)}]root.south) to[fandown] (gRedirM);
\draw [cedge] ([shift={(25,0)}]root.south) to[fandown] (gRedirU);
\draw [cedge] ([shift={(24,0)}]root.south) to[fandown] (gRepDate);
\draw [cedge] ([shift={(23,0)}]root.south) to[fandown] (gResetPT);
\draw [cedge] ([shift={(22,0)}]root.south) to[fandown] (gResFilt);
\draw [cedge] ([shift={(21,0)}]root.south) to[fandown] (gResPres);
\draw [cedge] ([shift={(20,0)}]root.south) to[fandown] (gScoreCut);
\draw [cedge] ([shift={(19,0)}]root.south) to[fandown] (gScoreRep);
\draw [cedge] ([shift={(18,0)}]root.south) to[fandown] (gSeqSet);
\draw [cedge] ([shift={(17,0)}]root.south) to[fandown] (gShowCanc);
\draw [cedge] ([shift={(16,0)}]root.south) to[fandown] (gShowExH);
\draw [cedge] ([shift={(15,0)}]root.south) to[fandown] (gShowExP);
\draw [cedge] ([shift={(14,0)}]root.south) to[fandown] (gShowFinSt);
\draw [cedge] ([shift={(13,0)}]root.south) to[fandown] (gShowInfo);
\draw [cedge] ([shift={(12,0)}]root.south) to[fandown] (gShowMark);
\draw [cedge] ([shift={(11,0)}]root.south) to[fandown] (gShuffleQ);
\draw [cedge] ([shift={(10,0)}]root.south) to[fandown] (gSignSub);
\draw [cedge] ([shift={(9,0)}]root.south) to[fandown] (gSpecAF);
\draw [cedge] ([shift={(8,0)}]root.south) to[fandown] (gStartT);
\draw [cedge] ([shift={(7,0)}]root.south) to[fandown] (gTemplate);
\draw [cedge] ([shift={(6,0)}]root.south) to[fandown] (gTitleOut);
\draw [cedge] ([shift={(5,0)}]root.south) to[fandown] (gUsePrev);
\draw [cedge] ([shift={(4,0)}]root.south) to[fandown] (iBestSol);
\draw [cedge] ([shift={(3,0)}]root.south) to[fandown] (iEndTEn);
\draw [cedge] ([shift={(2,0)}]root.south) to[fandown] (iForceIF);
\draw [cedge] ([shift={(1,0)}]root.south) to[fandown] (iIFAnsFix);
\draw [cedge] (root.south) to[fandown] (iIntroEn);
\draw [cedge] ([shift={(-1,0)}]root.south) to[fandown] (iLimUEn);
\draw [cedge] ([shift={(-2,0)}]root.south) to[fandown] (iOffQH);
\draw [cedge] ([shift={(-3,0)}]root.south) to[fandown] (iOnline);
\draw [cedge] ([shift={(-4,0)}]root.south) to[fandown] (iPwEn);
\draw [cedge] ([shift={(-5,0)}]root.south) to[fandown] (iExIdPass);
\draw [cedge] ([shift={(-6,0)}]root.south) to[fandown] (iExIdRes);
\draw [cedge] ([shift={(-7,0)}]root.south) to[fandown] (iSkillSrv);
\draw [cedge] ([shift={(-8,0)}]root.south) to[fandown] (iStartTEn);
\end{pgfonlayer}

\end{tikzpicture}
\end{document}
